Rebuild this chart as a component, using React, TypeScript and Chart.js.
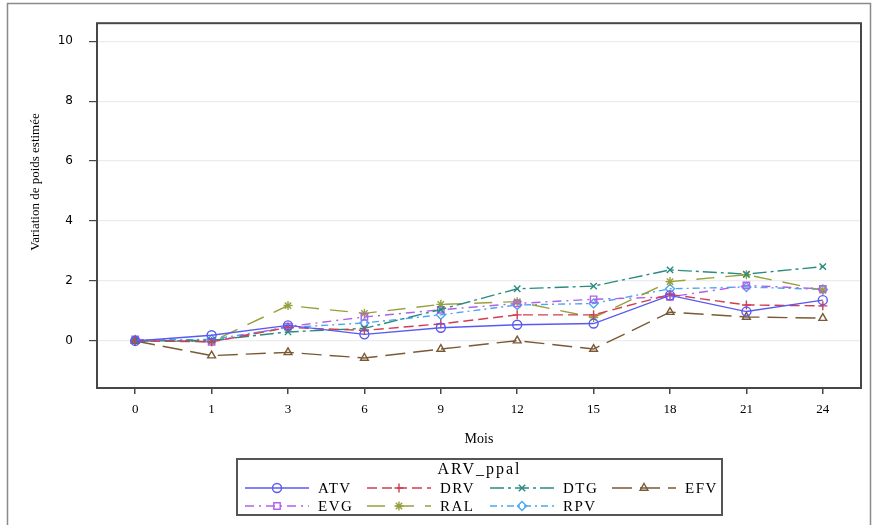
import React, { useEffect, useRef } from "react";
import { Chart, registerables } from "chart.js";
import { drawPoint } from "chart.js/helpers";

Chart.register(...registerables);

const months = ["0", "1", "3", "6", "9", "12", "15", "18", "21", "24"];
const yTicks = [0, 2, 4, 6, 8, 10];

const atv = [0, 0.19, 0.52, 0.22, 0.44, 0.54, 0.58, 1.52, 0.98, 1.36];
const drv = [0, -0.03, 0.45, 0.35, 0.57, 0.87, 0.87, 1.55, 1.2, 1.17];
const dtg = [0, 0.02, 0.3, 0.42, 1.05, 1.74, 1.83, 2.37, 2.23, 2.48];
const efv = [0, -0.49, -0.38, -0.57, -0.27, 0.01, -0.27, 0.96, 0.8, 0.76];
const evg = [0.05, -0.03, 0.48, 0.8, 1.04, 1.25, 1.39, 1.47, 1.85, 1.74];
const ral = [0, -0.02, 1.18, 0.92, 1.22, 1.31, 0.78, 1.98, 2.21, 1.69];
const rpv = [0.03, 0.05, 0.45, 0.6, 0.87, 1.2, 1.25, 1.74, 1.8, 1.72];

const seriesNames = ["ATV", "DRV", "DTG", "EFV", "EVG", "RAL", "RPV"];
const seriesValues = [atv, drv, dtg, efv, evg, ral, rpv];
const seriesColors = ["#5a5af2", "#cf3f4f", "#2a8c80", "#7a5a34", "#b060ea", "#98a03c", "#4aa8f0"];
const seriesDashes = [[], [10, 5], [14, 4, 3, 4], [20, 8], [9, 5, 2, 5], [18, 11], [7, 4, 2, 4]];
const seriesPoints = ["circle", "cross", "crossRot", "triangle", "rect", "star", "rectRot"];

const legendTitle = "ARV_ppal";
const xTitle = "Mois";
const yTitle = "Variation de poids estimée";

const framePlugin = {
  id: "sasFrame",
  afterDraw(chart: any) {
    const ctx = chart.ctx as CanvasRenderingContext2D;
    const a = chart.chartArea;
    ctx.save();
    // outer frame
    ctx.strokeStyle = "#8a8a8a";
    ctx.lineWidth = 1.5;
    ctx.setLineDash([]);
    ctx.beginPath();
    ctx.moveTo(7.5, 525);
    ctx.lineTo(7.5, 3.5);
    ctx.lineTo(870.5, 3.5);
    ctx.lineTo(870.5, 525);
    ctx.stroke();
    // plot frame
    ctx.strokeStyle = "#474747";
    ctx.lineWidth = 2;
    ctx.strokeRect(a.left, a.top, a.right - a.left, a.bottom - a.top);
    // axis titles
    ctx.fillStyle = "#000";
    ctx.font = "13px 'Liberation Serif'";
    ctx.textAlign = "center";
    ctx.textBaseline = "middle";
    ctx.save();
    ctx.translate(36, 182);
    ctx.rotate(-Math.PI / 2);
    ctx.fillText(yTitle, 0, 0);
    ctx.restore();
    ctx.font = "14px 'Liberation Serif'";
    ctx.fillText(xTitle, (a.left + a.right) / 2, 439);
    // legend
    const bx = 237, by = 459, bw = 485, bh = 56;
    ctx.strokeStyle = "#555";
    ctx.lineWidth = 2;
    ctx.strokeRect(bx, by, bw, bh);
    ctx.fillStyle = "#000";
    (ctx as any).letterSpacing = "2px";
    ctx.font = "16px 'Liberation Serif'";
    ctx.fillText(legendTitle, bx + bw / 2, 470);
    (ctx as any).letterSpacing = "1.5px";
    ctx.font = "15px 'Liberation Serif'";
    ctx.textAlign = "left";
    const colStart = [245, 367, 490, 612];
    const rowY = [488, 506];
    seriesNames.forEach((name, i) => {
      const col = i % 4;
      const row = Math.floor(i / 4);
      const x0 = colStart[col];
      const y = rowY[row];
      ctx.strokeStyle = seriesColors[i];
      ctx.lineWidth = 1.4;
      ctx.setLineDash(seriesDashes[i]);
      ctx.beginPath();
      ctx.moveTo(x0, y);
      ctx.lineTo(x0 + 64, y);
      ctx.stroke();
      ctx.setLineDash([]);
      ctx.fillStyle = "rgba(0,0,0,0)";
      drawPoint(ctx, { pointStyle: seriesPoints[i], radius: 4.5, borderWidth: 1.4, rotation: 0 } as any, x0 + 32, y);
      ctx.fillStyle = "#000";
      ctx.fillText(name, x0 + 73, y + 1);
    });
    ctx.restore();
  },
};

export default function App() {
  const ref = useRef<HTMLCanvasElement | null>(null);
  useEffect(() => {
    if (!ref.current) return;
    const chart = new Chart(ref.current, {
      type: "line",
      data: {
        labels: months,
        datasets: seriesNames.map((name, i) => ({
          label: name,
          data: seriesValues[i],
          borderColor: seriesColors[i],
          backgroundColor: "rgba(0,0,0,0)",
          pointBorderColor: seriesColors[i],
          pointBackgroundColor: "rgba(0,0,0,0)",
          pointStyle: seriesPoints[i] as any,
          pointRadius: 4.5,
          pointBorderWidth: 1.4,
          borderWidth: 1.4,
          borderDash: seriesDashes[i],
          tension: 0,
          fill: false,
        })),
      },
      options: {
        animation: false,
        responsive: false,
        layout: { padding: { left: 0, top: 16, right: 15, bottom: 0 } },
        plugins: { legend: { display: false }, tooltip: { enabled: false } },
        scales: {
          x: {
            type: "category",
            offset: true,
            grid: { drawOnChartArea: false, tickColor: "#474747", tickLength: 6, lineWidth: 1.5, offset: false },
            border: { display: false },
            ticks: { color: "#000", font: { family: "'Liberation Serif'", size: 13 }, padding: 8, maxRotation: 0 },
            afterFit: (s: any) => { s.height = 137; },
          },
          y: {
            type: "linear",
            min: -1.57,
            max: 10.6,
            grid: { color: "#ececec", tickColor: "#474747", tickLength: 8, lineWidth: 1.2 },
            border: { display: false },
            ticks: { color: "#000", font: { family: "'DejaVu Sans'", size: 12 }, padding: 16 },
            afterBuildTicks: (s: any) => { s.ticks = yTicks.map((v) => ({ value: v })); },
            afterFit: (s: any) => { s.width = 97; },
          },
        },
      },
      plugins: [framePlugin],
    });
    return () => chart.destroy();
  }, []);
  return (
    <div style={{ position: "fixed", left: 0, top: 0, width: 876, height: 525, background: "#fff" }}>
      <canvas ref={ref} width={876} height={525} style={{ width: 876, height: 525, display: "block" }} />
    </div>
  );
}
